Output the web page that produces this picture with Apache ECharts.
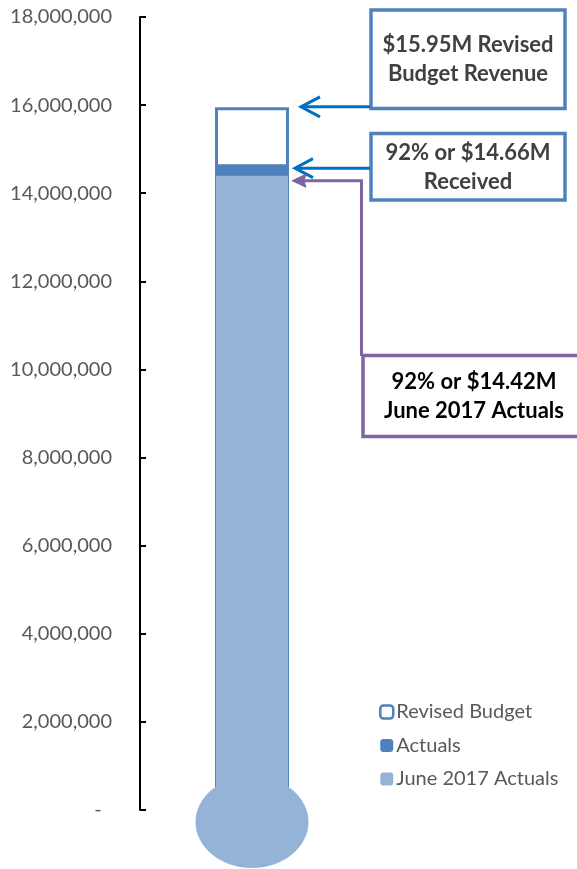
<!DOCTYPE html>
<html>
<head>
<meta charset="utf-8">
<script src="https://cdn.jsdelivr.net/npm/echarts@6/dist/echarts.min.js"></script>
<style>
html,body{margin:0;padding:0;background:#fff;}
#c{width:577px;height:869px;}
</style>
</head>
<body>
<div id="c"></div>
<script>
var categories = ['Revenue'];
var revisedBudget = [15950000];
var actuals = [14660000];
var june2017Actuals = [14420000];
var bulbValue = [0];
var seriesNames = ['Revised Budget', 'Actuals', 'June 2017 Actuals'];
var yTicks = { min: 0, max: 18000000, interval: 2000000 };
var calloutTexts = [
  '$15.95M Revised\nBudget Revenue',
  '92% or $14.66M\nReceived',
  '92% or $14.42M\nJune 2017 Actuals'
];

var FONT = 'Lato';
var chart = echarts.init(document.getElementById('c'), null, { renderer: 'canvas' });

var option = {
  animation: false,
  backgroundColor: '#ffffff',
  grid: { left: 140, right: 213, top: 17, bottom: 59, containLabel: false },
  xAxis: { type: 'category', data: categories, show: false },
  yAxis: {
    type: 'value',
    min: yTicks.min, max: yTicks.max, interval: yTicks.interval,
    axisLine: { show: true, lineStyle: { color: '#000', width: 2 } },
    axisTick: { show: true, inside: true, length: 6, lineStyle: { color: '#000', width: 2 } },
    splitLine: { show: false },
    axisLabel: {
      margin: 28, color: '#595959', fontFamily: FONT, fontSize: 20,
      formatter: function (v) { return v === 0 ? '-  ' : v.toLocaleString('en-US'); }
    }
  },
  legend: {
    data: [
      { name: seriesNames[0], itemStyle: { color: '#ffffff', borderColor: '#4F81BD', borderWidth: 2.5 } },
      { name: seriesNames[1], itemStyle: { borderWidth: 0 } },
      { name: seriesNames[2], itemStyle: { borderWidth: 0 } }
    ],
    orient: 'vertical',
    left: 374, top: 697,
    itemWidth: 13, itemHeight: 13, itemGap: 13.5,
    textStyle: { color: '#595959', fontFamily: FONT, fontSize: 20, padding: [0, 0, 0, -2] },
    selectedMode: false
  },
  series: [
    {
      name: seriesNames[0], type: 'bar', data: revisedBudget, barWidth: 74, barGap: '-100%',
      itemStyle: { color: '#ffffff', borderColor: '#4F81BD', borderWidth: 3 }, silent: true, z: 2
    },
    {
      name: seriesNames[1], type: 'bar', data: actuals, barWidth: 74, barGap: '-100%',
      itemStyle: { color: '#4F81BD' }, silent: true, z: 3
    },
    {
      name: seriesNames[2], type: 'bar', data: june2017Actuals, barWidth: 74, barGap: '-100%',
      itemStyle: { color: '#95B3D7', borderColor: '#4F81BD', borderWidth: 1 }, silent: true, z: 4
    },
    {
      name: 'bulb', type: 'scatter', data: bulbValue, symbol: 'circle', symbolSize: [113, 92],
      symbolOffset: [0, 12], clip: false, silent: true, z: 5,
      itemStyle: { color: '#95B3D7', opacity: 1 }
    }
  ]
};
chart.setOption(option);

var cx = chart.convertToPixel({ xAxisIndex: 0 }, categories[0]);
var yB = chart.convertToPixel({ yAxisIndex: 0 }, revisedBudget[0]);
var yA = chart.convertToPixel({ yAxisIndex: 0 }, actuals[0]);
var yJ = chart.convertToPixel({ yAxisIndex: 0 }, june2017Actuals[0]);
var barRight = cx + 37;

var BLUE = '#0070C0', BOX = '#4F81BD', PURPLE = '#8064A2';
var y1 = yB - 0.5, y2 = yA + 4, y3 = yJ + 6;
var t1 = barRight + 12, t2 = barRight + 6, t3 = barRight + 3;

function boxText(x, y, txt, color) {
  return {
    type: 'text', x: x, y: y, z: 20,
    style: {
      text: txt, fill: color, font: 'bold 22px ' + FONT,
      align: 'center', verticalAlign: 'middle', lineHeight: 29
    }
  };
}

chart.setOption({
  graphic: [
    // Box 1
    { type: 'rect', z: 10, shape: { x: 371, y: 10, width: 194, height: 98.5 },
      style: { fill: '#fff', stroke: BOX, lineWidth: 3.5 } },
    boxText(468, 59.5, calloutTexts[0], '#404040'),
    { type: 'line', z: 11, shape: { x1: 370, y1: y1, x2: t1 + 1, y2: y1 },
      style: { stroke: BLUE, lineWidth: 3 } },
    { type: 'polyline', z: 11, shape: { points: [[t1 + 19, y1 - 10], [t1, y1], [t1 + 19, y1 + 10]] },
      style: { stroke: BLUE, lineWidth: 3, fill: null } },
    // Box 2
    { type: 'rect', z: 10, shape: { x: 371, y: 133.5, width: 194, height: 66.5 },
      style: { fill: '#fff', stroke: BOX, lineWidth: 3.5 } },
    boxText(468, 167.5, calloutTexts[1], '#404040'),
    { type: 'line', z: 11, shape: { x1: 370, y1: y2, x2: t2 + 1, y2: y2 },
      style: { stroke: BLUE, lineWidth: 3 } },
    { type: 'polyline', z: 11, shape: { points: [[t2 + 18, y2 - 9.5], [t2, y2], [t2 + 18, y2 + 9.5]] },
      style: { stroke: BLUE, lineWidth: 3, fill: null } },
    // Box 3
    { type: 'rect', z: 10, shape: { x: 363, y: 355.5, width: 230, height: 81 },
      style: { fill: '#fff', stroke: PURPLE, lineWidth: 3.5 } },
    boxText(474, 396.5, calloutTexts[2], '#000000'),
    { type: 'polyline', z: 11, shape: { points: [[t3 + 10, y3], [361.5, y3], [361.5, 356]] },
      style: { stroke: PURPLE, lineWidth: 3, fill: null } },
    { type: 'polygon', z: 11, shape: { points: [[t3, y3], [t3 + 14, y3 - 6.5], [t3 + 12, y3], [t3 + 14, y3 + 6.5]] },
      style: { fill: PURPLE, stroke: PURPLE, lineWidth: 1 } }
  ]
});
</script>
</body>
</html>
